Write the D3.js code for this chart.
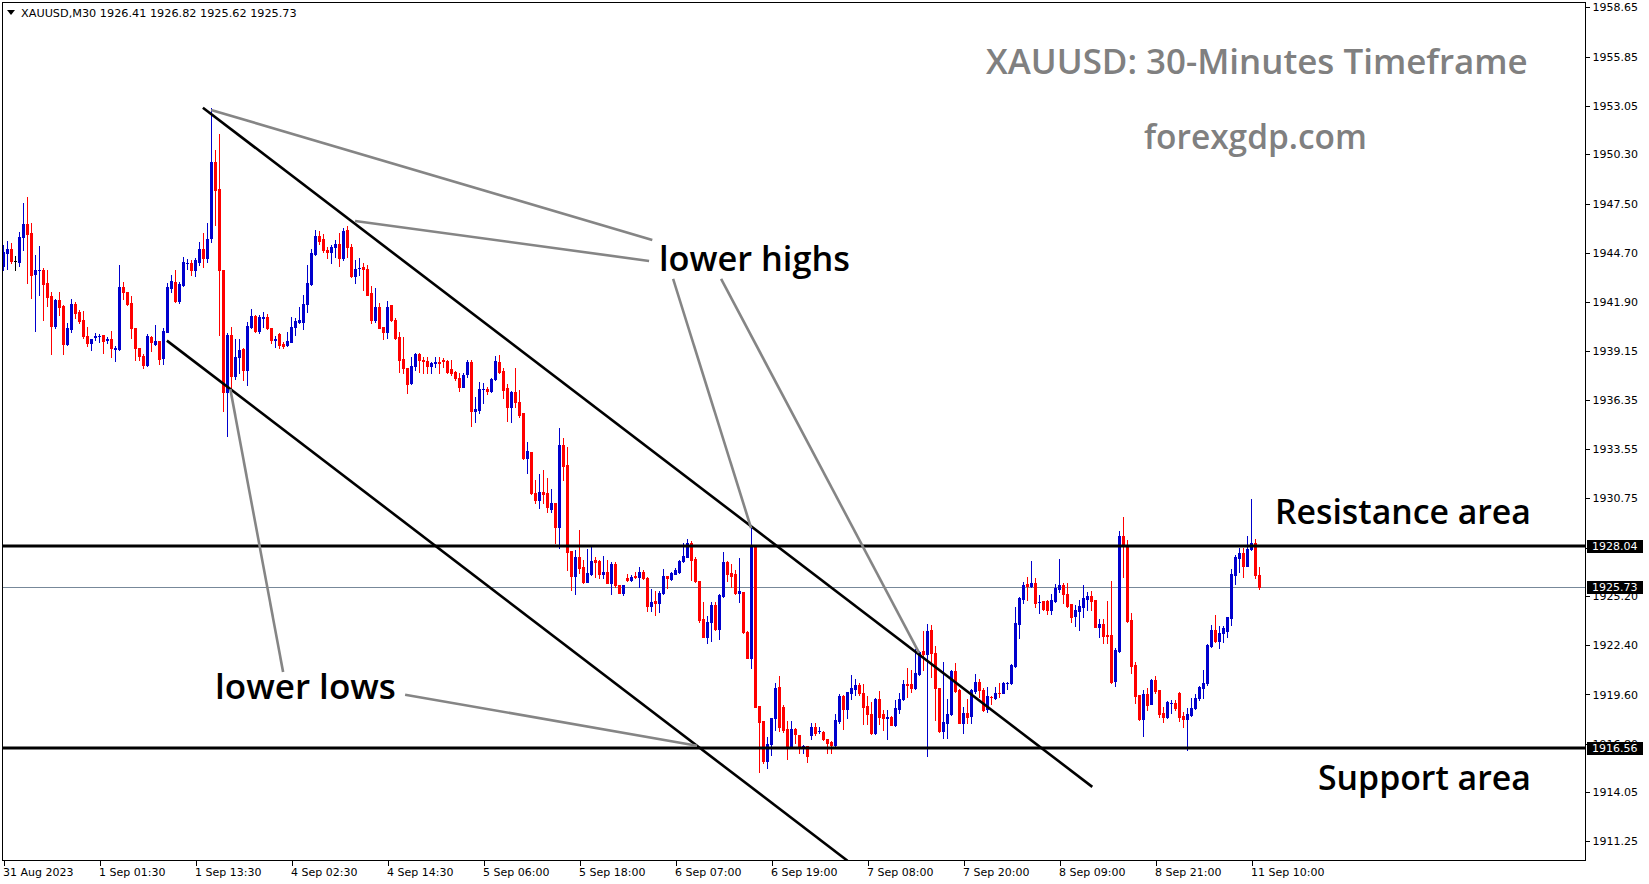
<!DOCTYPE html>
<html><head><meta charset="utf-8">
<script src="https://cdn.jsdelivr.net/npm/d3@7"></script>
<style>html,body{margin:0;padding:0;background:#fff;}svg{display:block;}</style>
</head><body>
<script>
// ---------- DATA ----------
const symbolHeader = "XAUUSD,M30  1926.41 1926.82 1925.62 1925.73";
const xTickBars = [0,24,48,72,96,120,144,168,192,216,240,264,288,312];
const xTickLabels = ["31 Aug 2023","1 Sep 01:30","1 Sep 13:30","4 Sep 02:30","4 Sep 14:30","5 Sep 06:00","5 Sep 18:00","6 Sep 07:00","6 Sep 19:00","7 Sep 08:00","7 Sep 20:00","8 Sep 09:00","8 Sep 21:00","11 Sep 10:00"];
const yTickValues = [1958.65,1955.85,1953.05,1950.30,1947.50,1944.70,1941.90,1939.15,1936.35,1933.55,1930.75,1927.95,1925.20,1922.40,1919.60,1916.80,1914.05,1911.25];
const priceLevels = {resistance:1928.04, support:1916.56, bid:1925.73};

const open = [1943.97,1944.69,1944.92,1944.24,1944.20,1945.62,1946.34,1945.83,1943.52,1943.70,1943.72,1942.99,1942.25,1940.56,1942.02,1941.70,1939.54,1940.39,1941.79,1941.36,1940.86,1939.99,1939.58,1939.94,1939.97,1940.03,1939.77,1939.79,1939.25,1939.25,1942.76,1942.49,1941.85,1940.45,1939.27,1938.84,1938.35,1939.94,1939.54,1939.69,1938.71,1940.22,1942.72,1943.02,1941.98,1942.87,1944.12,1944.14,1943.74,1944.20,1944.92,1944.43,1945.52,1949.86,1948.31,1943.72,1936.81,1940.03,1937.72,1938.76,1939.24,1938.04,1940.50,1941.11,1940.26,1941.01,1941.07,1940.43,1939.76,1940.09,1939.52,1939.46,1939.65,1940.50,1940.79,1940.79,1941.77,1942.93,1944.63,1945.65,1945.48,1944.86,1944.74,1945.01,1945.18,1944.42,1946.00,1945.03,1943.38,1943.83,1943.91,1943.78,1942.40,1940.88,1941.62,1940.48,1940.18,1941.71,1940.88,1939.93,1938.65,1938.17,1937.32,1938.27,1938.95,1938.61,1938.55,1938.25,1938.42,1938.48,1938.59,1938.53,1938.08,1937.93,1937.57,1937.09,1937.79,1938.51,1935.73,1935.77,1936.96,1936.96,1936.86,1937.53,1938.47,1937.98,1937.00,1935.92,1936.77,1936.24,1935.58,1933.02,1933.40,1931.03,1930.65,1931.11,1931.03,1930.12,1930.46,1929.10,1933.78,1932.64,1927.76,1926.33,1927.43,1926.87,1926.01,1926.45,1927.22,1927.19,1926.45,1926.58,1925.92,1927.02,1925.82,1925.39,1926.22,1926.13,1926.35,1926.26,1926.54,1926.20,1924.63,1924.91,1924.82,1925.35,1926.33,1926.15,1926.45,1926.58,1927.17,1927.43,1928.19,1927.30,1926.05,1923.87,1922.89,1923.74,1924.69,1923.30,1925.22,1927.11,1926.49,1926.45,1925.39,1925.44,1923.17,1921.69,1928.00,1918.95,1918.09,1915.80,1916.77,1918.24,1920.00,1918.87,1917.62,1916.63,1917.64,1917.28,1916.59,1916.69,1917.28,1917.77,1917.50,1917.48,1917.05,1916.88,1916.73,1918.11,1919.51,1918.77,1919.66,1919.89,1920.14,1919.66,1918.94,1918.49,1917.39,1919.32,1918.49,1918.28,1918.30,1917.86,1918.75,1919.32,1920.19,1920.19,1919.95,1920.74,1922.07,1921.90,1923.26,1921.94,1919.95,1917.54,1918.00,1918.49,1920.93,1919.85,1917.96,1918.53,1918.38,1919.81,1920.33,1919.85,1918.75,1919.47,1919.38,1919.70,1919.70,1920.23,1920.23,1921.24,1923.58,1925.03,1925.86,1925.77,1925.92,1924.84,1924.91,1924.91,1924.40,1924.93,1925.60,1925.80,1925.31,1924.74,1924.06,1924.36,1924.59,1925.03,1925.20,1924.97,1923.46,1923.61,1922.98,1922.98,1920.37,1922.09,1928.61,1928.08,1923.83,1921.26,1919.57,1918.21,1919.63,1919.06,1920.42,1919.86,1918.53,1918.34,1919.12,1919.14,1919.67,1918.38,1918.19,1918.44,1918.81,1919.38,1919.95,1920.23,1922.38,1923.27,1922.66,1923.08,1923.23,1923.97,1926.41,1927.38,1927.66,1926.92,1927.85,1928.23,1926.41];
const high = [1945.15,1945.37,1945.24,1944.54,1945.90,1947.55,1947.89,1946.38,1944.58,1945.09,1943.86,1943.72,1942.46,1942.08,1942.46,1941.74,1940.69,1942.08,1941.93,1941.45,1941.40,1940.47,1939.79,1940.15,1940.11,1940.03,1939.90,1940.26,1939.43,1944.01,1943.02,1942.49,1942.23,1940.45,1939.27,1938.97,1940.11,1939.99,1940.60,1939.69,1940.41,1943.01,1943.44,1943.72,1943.06,1944.45,1944.35,1944.29,1944.39,1945.34,1945.83,1946.38,1952.91,1950.54,1951.44,1943.72,1940.13,1940.47,1939.80,1939.80,1939.27,1940.79,1941.51,1941.17,1941.16,1941.32,1941.22,1940.43,1939.97,1940.16,1939.65,1940.18,1941.03,1940.98,1941.60,1942.30,1944.01,1944.90,1946.00,1945.96,1945.77,1945.05,1945.14,1945.43,1945.81,1946.13,1946.22,1945.20,1944.29,1944.39,1944.14,1944.01,1942.81,1942.68,1941.87,1940.48,1941.96,1941.75,1940.99,1940.22,1939.90,1938.17,1938.80,1939.02,1938.99,1938.80,1938.80,1938.49,1938.76,1938.80,1938.72,1938.61,1938.61,1937.96,1937.85,1937.89,1938.61,1938.61,1936.52,1937.38,1937.32,1937.05,1937.57,1938.83,1938.89,1938.13,1937.24,1936.87,1938.13,1936.90,1935.62,1933.97,1933.40,1931.79,1932.13,1932.36,1931.89,1931.26,1930.50,1934.73,1934.16,1933.68,1927.76,1927.81,1928.95,1927.24,1927.85,1927.96,1927.43,1927.24,1927.47,1927.24,1927.15,1927.15,1925.82,1925.84,1926.45,1926.39,1926.58,1926.87,1926.68,1926.26,1925.58,1925.50,1925.50,1926.71,1926.35,1926.58,1926.77,1927.24,1928.23,1928.44,1928.34,1927.40,1926.05,1924.88,1924.06,1924.88,1924.88,1925.31,1927.68,1927.21,1927.00,1926.68,1927.34,1925.44,1923.23,1929.14,1928.04,1918.95,1918.09,1917.20,1918.26,1920.27,1920.65,1919.00,1918.11,1918.11,1917.67,1917.30,1916.71,1916.69,1918.00,1918.00,1917.77,1917.50,1917.07,1916.98,1918.49,1919.63,1919.57,1919.76,1920.71,1920.46,1920.23,1920.21,1919.51,1919.19,1919.38,1919.80,1918.72,1918.72,1918.38,1919.28,1919.66,1920.42,1921.08,1920.99,1922.16,1922.09,1923.21,1923.58,1923.55,1922.37,1919.95,1921.46,1919.32,1920.99,1921.37,1919.89,1918.87,1919.32,1919.89,1920.76,1920.48,1919.95,1920.04,1919.51,1920.04,1920.23,1920.33,1920.33,1921.33,1924.59,1925.16,1926.01,1926.26,1927.20,1926.20,1925.26,1924.93,1924.97,1925.29,1925.88,1927.30,1925.92,1925.92,1924.74,1924.67,1924.97,1925.82,1925.44,1925.50,1924.97,1923.87,1923.87,1924.93,1926.05,1922.22,1928.91,1929.71,1928.38,1924.21,1921.43,1919.57,1919.86,1919.95,1920.48,1920.65,1919.86,1918.87,1919.25,1919.29,1919.29,1919.76,1918.63,1918.81,1919.38,1919.63,1920.08,1920.99,1922.47,1923.55,1924.12,1923.51,1923.51,1924.02,1926.73,1927.53,1927.91,1927.91,1928.61,1930.71,1928.42,1926.82];
const low = [1943.72,1943.78,1944.14,1943.72,1943.97,1944.86,1943.01,1942.15,1940.28,1942.30,1940.88,1941.68,1938.95,1940.45,1941.17,1938.97,1939.46,1940.22,1940.98,1940.73,1939.84,1939.43,1939.18,1939.75,1939.61,1938.99,1939.56,1938.80,1938.57,1939.20,1942.08,1941.74,1939.88,1938.61,1938.61,1938.14,1938.29,1939.12,1939.46,1938.36,1938.36,1940.20,1942.49,1941.93,1941.83,1942.83,1943.76,1943.44,1943.40,1944.01,1943.90,1944.20,1945.34,1946.28,1940.03,1935.73,1934.31,1937.00,1937.53,1937.85,1937.47,1937.19,1940.41,1940.18,1940.16,1940.50,1940.35,1939.56,1939.37,1939.31,1939.31,1939.42,1939.61,1940.03,1940.69,1940.37,1941.35,1942.87,1944.60,1945.18,1944.76,1944.39,1944.14,1944.48,1943.97,1944.29,1944.48,1943.31,1943.00,1943.44,1942.59,1942.28,1940.73,1940.79,1940.41,1939.78,1939.88,1940.84,1939.78,1937.94,1937.89,1936.71,1937.24,1938.04,1937.94,1937.85,1937.85,1937.85,1938.23,1937.85,1938.23,1937.85,1937.75,1937.47,1936.87,1937.05,1937.66,1934.88,1935.10,1935.58,1936.14,1936.68,1936.81,1937.47,1937.85,1936.43,1935.16,1935.10,1935.92,1935.39,1932.97,1932.17,1930.99,1930.46,1930.18,1930.46,1929.99,1929.99,1928.19,1927.91,1931.79,1926.68,1925.54,1925.31,1926.49,1925.92,1925.97,1926.39,1926.30,1926.20,1926.20,1925.92,1925.31,1925.73,1925.35,1925.26,1926.07,1926.05,1926.20,1925.73,1926.15,1924.36,1924.36,1924.12,1924.31,1925.31,1925.63,1926.11,1926.45,1926.52,1927.15,1927.40,1926.11,1926.01,1923.74,1922.85,1922.51,1922.66,1923.27,1922.77,1925.16,1926.05,1925.73,1925.31,1924.88,1923.08,1921.66,1921.09,1918.87,1915.22,1915.73,1915.40,1916.16,1917.58,1917.54,1917.48,1915.91,1916.54,1916.82,1916.25,1916.25,1915.74,1917.05,1917.30,1917.43,1917.01,1916.25,1916.25,1916.63,1917.96,1917.62,1918.24,1919.32,1919.57,1919.57,1917.92,1917.92,1917.35,1917.35,1917.92,1917.58,1917.05,1917.84,1917.81,1918.56,1919.28,1919.47,1919.76,1919.91,1920.71,1920.99,1916.10,1920.57,1918.15,1917.48,1917.14,1917.14,1918.43,1919.76,1917.96,1917.39,1918.00,1917.96,1919.70,1919.44,1918.68,1918.62,1919.06,1919.32,1919.47,1919.70,1919.89,1920.17,1921.18,1922.83,1924.82,1924.97,1925.69,1924.59,1924.25,1924.40,1924.17,1924.17,1924.88,1925.44,1924.78,1924.59,1923.74,1923.49,1923.27,1923.99,1924.40,1924.40,1923.42,1922.85,1922.55,1922.55,1920.27,1920.10,1922.03,1926.30,1923.74,1920.84,1919.14,1918.15,1917.24,1918.72,1919.04,1919.67,1918.30,1918.02,1918.25,1918.57,1918.72,1918.11,1917.73,1916.45,1918.38,1918.78,1919.29,1919.38,1920.14,1922.32,1922.60,1922.22,1922.57,1922.89,1923.55,1925.88,1926.58,1926.26,1926.90,1927.81,1926.20,1925.62];
const close = [1944.77,1944.92,1944.26,1944.24,1945.60,1946.34,1945.75,1943.44,1943.72,1943.72,1942.95,1942.21,1940.56,1942.02,1941.62,1939.54,1940.41,1941.79,1941.30,1940.83,1939.99,1939.58,1939.79,1939.96,1939.99,1939.71,1939.79,1939.27,1939.27,1942.76,1942.49,1941.79,1940.45,1939.27,1938.84,1938.35,1939.97,1939.61,1939.69,1938.65,1940.26,1942.76,1943.10,1941.98,1942.93,1944.16,1944.14,1943.72,1944.29,1944.92,1944.43,1945.49,1949.86,1948.27,1943.72,1936.81,1940.03,1937.72,1938.78,1939.18,1938.04,1940.54,1941.11,1940.28,1941.07,1941.03,1940.41,1939.74,1939.78,1939.46,1939.41,1939.69,1940.48,1940.84,1940.88,1941.79,1942.98,1944.71,1945.65,1945.39,1944.86,1944.73,1945.01,1945.18,1944.42,1945.94,1945.01,1943.38,1943.76,1943.85,1943.76,1942.32,1940.88,1941.62,1940.44,1940.18,1941.60,1940.88,1939.84,1938.61,1938.15,1937.26,1938.27,1938.95,1938.59,1938.53,1938.27,1938.46,1938.47,1938.42,1938.53,1937.94,1937.85,1937.57,1937.09,1937.77,1938.51,1935.73,1935.80,1936.96,1936.98,1936.86,1937.53,1938.55,1937.94,1936.90,1935.92,1936.77,1936.24,1935.48,1933.02,1933.44,1931.03,1930.65,1931.11,1930.99,1930.24,1930.46,1929.10,1933.78,1932.59,1927.72,1926.33,1927.43,1926.81,1926.01,1926.49,1927.19,1927.13,1926.45,1926.58,1925.96,1927.02,1925.82,1925.39,1925.80,1926.11,1926.26,1926.26,1926.54,1926.20,1924.65,1924.86,1924.78,1925.35,1926.33,1926.20,1926.49,1926.68,1927.17,1927.47,1928.19,1927.24,1926.07,1923.83,1922.89,1923.74,1924.69,1923.30,1925.26,1927.11,1926.43,1926.35,1925.39,1925.48,1923.13,1921.69,1928.00,1918.91,1918.06,1915.84,1916.77,1918.24,1919.95,1917.77,1917.58,1916.63,1917.62,1917.33,1916.67,1916.69,1916.10,1917.77,1917.43,1917.52,1917.05,1916.86,1916.73,1918.15,1919.51,1918.75,1919.72,1919.95,1920.14,1919.66,1918.91,1918.49,1917.39,1919.32,1918.34,1918.24,1918.30,1917.86,1918.81,1919.32,1920.17,1920.14,1919.98,1920.80,1922.03,1921.90,1923.22,1921.94,1919.95,1917.52,1918.05,1918.49,1920.93,1919.80,1918.00,1918.53,1918.34,1919.85,1920.33,1919.85,1918.72,1919.51,1919.44,1919.70,1919.66,1920.27,1920.27,1921.27,1923.64,1925.06,1925.82,1925.78,1925.92,1924.82,1924.86,1924.44,1924.40,1924.97,1925.67,1925.80,1925.29,1924.65,1924.02,1924.40,1924.63,1925.10,1925.20,1924.93,1923.46,1923.61,1922.94,1922.94,1920.33,1922.13,1928.61,1928.04,1923.78,1921.24,1919.53,1918.19,1919.63,1919.02,1920.42,1919.80,1918.49,1918.34,1919.19,1919.14,1918.85,1918.34,1918.19,1918.49,1918.85,1919.42,1920.01,1920.27,1922.41,1923.27,1922.64,1923.11,1923.36,1923.99,1926.45,1927.39,1927.66,1926.92,1927.87,1928.23,1926.41,1925.73];

// channel lines [bar, price] pairs
const channelLines = [
  [[49.85,1952.95],[272.2,1914.35]],
  [[40.85,1939.71],[211.0,1910.15]]
];
// grey pointer lines [bar, price] pairs
const pointerLines = [
  [[51.9,1952.82],[162.2,1945.43]],
  [[87.9,1946.51],[161.4,1944.24]],
  [[167.4,1943.22],[186.9,1929.06]],
  [[179.4,1943.22],[228.9,1921.97]],
  [[56.7,1936.96],[69.9,1920.88]],
  [[100.4,1919.59],[173.4,1916.69]]
];
const labels = ["XAUUSD: 30-Minutes Timeframe","forexgdp.com","lower highs","Resistance area","Support area","lower lows"];

// ---------- LAYOUT ----------
const W = 1649, H = 884;
const plot = {l:2.5, t:2.5, r:1585.5, b:860.5};
const svg = d3.select("body").append("svg").attr("width",W).attr("height",H).style("background","#fff");
svg.append("rect").attr("width",W).attr("height",H).attr("fill","#fff");

const x = d3.scaleLinear().domain([0,100]).range([3.5,403.5]);
const y = d3.scaleLinear().domain([1911.25,1958.65]).range([841.4,7.4]);

const FONT = "DejaVu Sans";
const defs = svg.append("defs");
defs.append("clipPath").attr("id","clip").append("rect")
  .attr("x",plot.l).attr("y",plot.t).attr("width",plot.r-plot.l).attr("height",plot.b-plot.t);

// bid line
svg.append("line").attr("x1",plot.l).attr("x2",plot.r)
  .attr("y1",Math.round(y(priceLevels.bid))+0.5).attr("y2",Math.round(y(priceLevels.bid))+0.5)
  .attr("stroke","#778899").attr("stroke-width",1);

// candles
const UP="#0000cd", DN="#ff0000", FLAT="#000000";
const cg = svg.append("g").attr("clip-path","url(#clip)").attr("shape-rendering","crispEdges");
const idx = d3.range(open.length);
const col = i => close[i]>open[i]?UP:(close[i]<open[i]?DN:FLAT);
cg.selectAll("line.w").data(idx).join("line").attr("class","w")
  .attr("x1",i=>x(i)).attr("x2",i=>x(i))
  .attr("y1",i=>y(high[i])).attr("y2",i=>y(low[i])+1)
  .attr("stroke",col).attr("stroke-width",1);
cg.selectAll("rect.b").data(idx).join("rect").attr("class","b")
  .attr("x",i=>x(i)-1.5).attr("width",3)
  .attr("y",i=>Math.round(y(Math.max(open[i],close[i]))))
  .attr("height",i=>Math.max(1,Math.round(y(Math.min(open[i],close[i])))-Math.round(y(Math.max(open[i],close[i])))+1))
  .attr("fill",col);

// objects
const og = svg.append("g").attr("clip-path","url(#clip)");
og.selectAll("line.h").data([priceLevels.resistance,priceLevels.support]).join("line")
  .attr("x1",plot.l).attr("x2",plot.r).attr("y1",d=>y(d)).attr("y2",d=>y(d))
  .attr("stroke","#000").attr("stroke-width",3);
og.selectAll("line.c").data(channelLines).join("line")
  .attr("x1",d=>x(d[0][0])).attr("y1",d=>y(d[0][1])).attr("x2",d=>x(d[1][0])).attr("y2",d=>y(d[1][1]))
  .attr("stroke","#000").attr("stroke-width",2.6);
og.selectAll("line.p").data(pointerLines).join("line")
  .attr("x1",d=>x(d[0][0])).attr("y1",d=>y(d[0][1])).attr("x2",d=>x(d[1][0])).attr("y2",d=>y(d[1][1]))
  .attr("stroke","#858585").attr("stroke-width",2.6);

// frame
svg.append("rect").attr("x",plot.l).attr("y",plot.t).attr("width",plot.r-plot.l).attr("height",plot.b-plot.t)
  .attr("fill","none").attr("stroke","#000").attr("stroke-width",1).attr("shape-rendering","crispEdges");

// y axis
const ya = svg.append("g").attr("transform",`translate(${plot.r},0)`)
  .call(d3.axisRight(y).tickValues(yTickValues).tickFormat(d3.format(".2f")).tickSize(4).tickSizeOuter(0).tickPadding(3));
ya.select(".domain").remove();
ya.selectAll("text").attr("font-family",FONT).attr("font-size",11).attr("fill","#000");
ya.selectAll("line").attr("stroke","#000").attr("shape-rendering","crispEdges");

// x axis
const xa = svg.append("g").attr("transform",`translate(0,${plot.b})`)
  .call(d3.axisBottom(x).tickValues(xTickBars).tickFormat((d,i)=>xTickLabels[i]).tickSize(5).tickSizeOuter(0).tickPadding(3));
xa.select(".domain").remove();
xa.selectAll("text").attr("font-family",FONT).attr("font-size",11).attr("fill","#000").attr("text-anchor","start").attr("dx",-1);
xa.selectAll("line").attr("stroke","#000").attr("shape-rendering","crispEdges");

// price boxes
[priceLevels.resistance, priceLevels.bid, priceLevels.support].forEach(v=>{
  const yy = Math.round(y(v));
  svg.append("rect").attr("x",1587).attr("y",yy-6).attr("width",56).attr("height",13).attr("fill","#000");
  svg.append("text").attr("x",1592).attr("y",yy).attr("dy","0.36em").attr("font-family",FONT).attr("font-size",11)
    .attr("fill","#fff").text(d3.format(".2f")(v));
});

// header
svg.append("path").attr("d","M7,10 L15,10 L11,15 Z").attr("fill","#000");
const hdr = svg.append("text").attr("x",21).attr("y",17).attr("font-family",FONT).attr("font-size",11).attr("fill","#000").text(symbolHeader);
hdr.attr("font-size", 11*276/hdr.node().getComputedTextLength());

// annotation labels
const labelLayout = [
  {x:986, y:74, w:542, fill:"#808080"},
  {x:1144, y:149, w:223, fill:"#808080"},
  {x:659, y:271, w:191, fill:"#000"},
  {x:1275, y:524, w:256, fill:"#000"},
  {x:1318, y:790, w:213, fill:"#000"},
  {x:215, y:699, w:181, fill:"#000"}
];
labels.forEach((t,k)=>{
  const L = labelLayout[k];
  const el = svg.append("text").attr("x",L.x).attr("y",L.y).attr("font-family","Open Sans")
    .attr("font-weight",600).attr("font-size",30).attr("fill",L.fill).text(t);
  const w = el.node().getComputedTextLength();
  el.attr("font-size",30*L.w/w);
});
</script>
</body></html>
